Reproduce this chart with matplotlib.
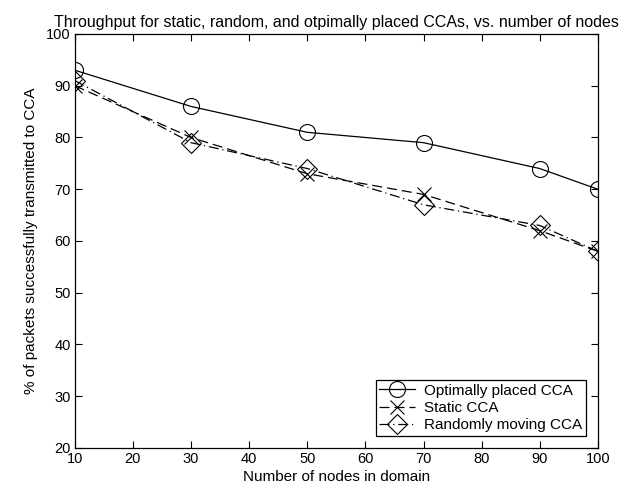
import matplotlib
matplotlib.use("Agg")
import matplotlib.pyplot as plt

plt.rcParams['font.family'] = ['Liberation Sans', 'DejaVu Sans']

nodes = [10, 30, 50, 70, 90, 100]
optimal = [93, 86, 81, 79, 74, 70]
static = [90, 80, 73, 69, 62, 58]
random_moving = [91, 79, 74, 67, 63, 58]

fig = plt.figure(figsize=(6.34, 4.97), dpi=100)
ax = fig.add_axes([0.118, 0.0986, 0.825, 0.833])

ax.plot(nodes, optimal, color='black', lw=0.9, linestyle='-', marker='o',
        ms=11.5, mfc='none', mew=0.8, label='Optimally placed CCA')
ax.plot(nodes, static, color='black', lw=0.9, linestyle=(0, (8, 4)), marker='x',
        ms=10, mew=0.8, label='Static CCA')
ax.plot(nodes, random_moving, color='black', lw=0.9, linestyle=(0, (8, 3, 1, 3)), marker='D',
        ms=10.5, mfc='none', mew=0.8, label='Randomly moving CCA')

ax.set_xlim(10, 100)
ax.set_ylim(20, 100)
ax.set_xticks([10, 20, 30, 40, 50, 60, 70, 80, 90, 100])
ax.set_yticks(range(20, 101, 10))
ax.tick_params(direction='in', top=True, right=True, labelsize=10.5, length=5, pad=3)
for s in ax.spines.values():
    s.set_linewidth(0.9)

ax.set_xlabel('Number of nodes in domain', fontsize=11, labelpad=3)
ax.set_ylabel('% of packets successfully transmitted to CCA', fontsize=11, labelpad=6)
ax.set_title('Throughput for static, random, and otpimally placed CCAs, vs. number of nodes',
             fontsize=11.5, pad=5)

leg = ax.legend(loc='lower right', fontsize=11, fancybox=False, framealpha=1,
                edgecolor='black', handlelength=2.3, borderpad=0.25, labelspacing=0.2,
                handletextpad=0.6, borderaxespad=0.8)
leg.get_frame().set_linewidth(0.9)

fig.savefig('out.png', dpi=100)
